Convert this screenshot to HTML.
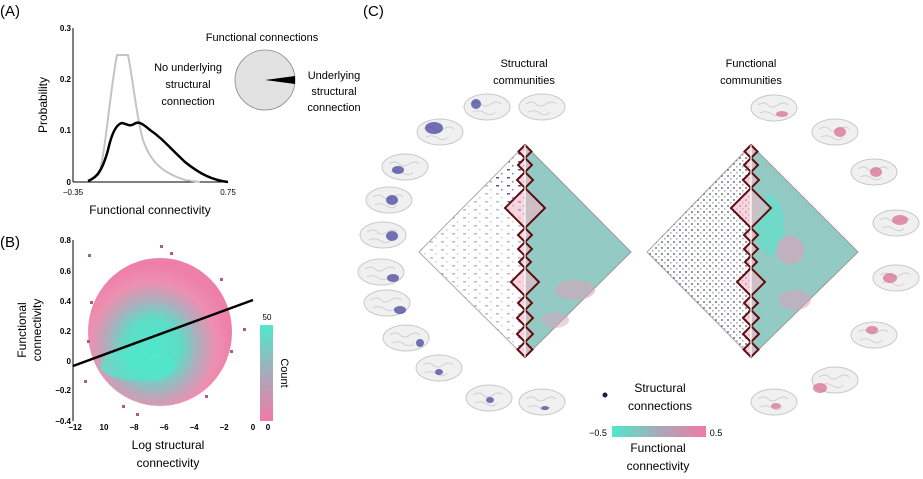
<!DOCTYPE html>
<html><head><meta charset="utf-8"><style>
body{margin:0;background:#fff;}
svg{display:block;font-family:"Liberation Sans",sans-serif;}
</style></head><body>
<svg width="923" height="479" viewBox="0 0 923 479" xmlns="http://www.w3.org/2000/svg">
<defs>
<radialGradient id="blob" cx="0.45" cy="0.6" r="0.55">
<stop offset="0" stop-color="#4fe8cc"/><stop offset="0.35" stop-color="#5fdcc6"/><stop offset="0.6" stop-color="#b6a9bb"/><stop offset="0.8" stop-color="#ee8fb0"/><stop offset="1" stop-color="#ee7fa6"/>
</radialGradient>
<linearGradient id="cnt" x1="0" y1="0" x2="0" y2="1"><stop offset="0" stop-color="#4fe8cc"/><stop offset="0.5" stop-color="#a6acba"/><stop offset="1" stop-color="#f07aa5"/></linearGradient>
<linearGradient id="fc" x1="0" y1="0" x2="1" y2="0"><stop offset="0" stop-color="#4fe8cc"/><stop offset="0.5" stop-color="#a9a9b8"/><stop offset="1" stop-color="#f07aa5"/></linearGradient>
<pattern id="dots" width="11" height="8" patternUnits="userSpaceOnUse"><rect x="1" y="1" width="3" height="1.5" fill="#3a3a8a"/><rect x="6" y="5" width="1.5" height="1.5" fill="#6a6ab0"/></pattern>
<pattern id="dots2" width="6" height="6" patternUnits="userSpaceOnUse"><rect x="1" y="1" width="2" height="2" fill="#2a2a70"/><rect x="4" y="4" width="1.5" height="1.5" fill="#555"/></pattern>
<g id="zz"><path d="M525,145 531.5,151.5 525,158 532,165 525,172 533,180 525,188 545,208 525,228 532,235 525,242 532,249 525,256 531,262 525,268 539,282 525,296 532,303 525,310 533,318 525,326 533,334 525,342 532.5,349.5 525,357" fill="#f4b8c8" fill-opacity="0.6" stroke="#5a1010" stroke-width="2"/></g>
<g id="brain"><ellipse cx="0" cy="0" rx="23" ry="13" fill="#f0f0f0" stroke="#c8c8c8" stroke-width="1"/><path d="M-16,-3 q6,-4 10,0 t10,0 t10,0 M-14,5 q6,-3 12,1 t10,-1" stroke="#d0d0d0" fill="none"/></g>
</defs>

<!-- Panel A -->
<text x="0" y="16" font-size="15">(A)</text>
<g font-size="8" font-weight="bold" text-anchor="end">
<text x="71" y="31">0.3</text><text x="71" y="82">0.2</text><text x="71" y="133">0.1</text><text x="71" y="185">0</text>
</g>
<line x1="73" y1="28" x2="73" y2="182" stroke="#000"/>
<line x1="73" y1="182" x2="228" y2="182" stroke="#000"/>
<text x="73" y="195" font-size="8" text-anchor="middle">−0.35</text>
<text x="228" y="195" font-size="8" text-anchor="middle">0.75</text>
<text x="150" y="214" font-size="12" text-anchor="middle">Functional connectivity</text>
<text transform="translate(47,105) rotate(-90)" font-size="12" text-anchor="middle">Probability</text>
<path d="M98,176 C105,160 110,90 117,55 L128,55 C133,80 137,120 143,140 C150,160 160,172 185,180 L200,182" fill="none" stroke="#c4c4c4" stroke-width="2"/>
<path d="M88,181 C96,178 102,172 108,150 C112,132 117,124 122,123 C127,124 130,127 134,124 C138,121 142,123 150,130 C162,138 170,148 185,162 C200,174 212,180 228,182" fill="none" stroke="#000" stroke-width="2.5"/>
<text x="262" y="41" font-size="11" text-anchor="middle">Functional connections</text>
<circle cx="265" cy="80" r="30" fill="#e2e2e2" stroke="#888" stroke-width="0.8"/>
<path d="M265,80 L295,76 L295,84 Z" fill="#000"/>
<g font-size="11" text-anchor="middle">
<text x="188" y="71">No underlying</text><text x="188" y="88">structural</text><text x="188" y="105">connection</text>
<text x="334" y="79">Underlying</text><text x="334" y="95">structural</text><text x="334" y="111">connection</text>
</g>

<!-- Panel B -->
<text x="0" y="247" font-size="15">(B)</text>
<g font-size="8" font-weight="bold" text-anchor="end">
<text x="71" y="243">0.8</text><text x="71" y="274">0.6</text><text x="71" y="304">0.4</text><text x="71" y="334">0.2</text><text x="71" y="364">0</text><text x="71" y="393">−0.2</text><text x="71" y="424">−0.4</text>
</g>
<line x1="73" y1="240" x2="73" y2="421" stroke="#000"/>
<g font-size="8" font-weight="bold" text-anchor="middle">
<text x="75" y="430">−12</text><text x="104" y="430">10</text><text x="134" y="430">−8</text><text x="164" y="430">−6</text><text x="194" y="430">−4</text><text x="224" y="430">−2</text><text x="253" y="430">0</text><text x="268" y="430">0</text>
</g>
<ellipse cx="160" cy="332" rx="72" ry="74" fill="url(#blob)"/>
<ellipse cx="138" cy="365" rx="38" ry="16" fill="#4fe8cc" opacity="0.7"/>
<g fill="#b05a7f">
<rect x="88" y="254" width="3" height="3"/><rect x="160" y="245" width="3" height="3"/><rect x="170" y="252" width="3" height="3"/><rect x="220" y="278" width="3" height="3"/><rect x="243" y="328" width="3" height="3"/><rect x="87" y="340" width="3" height="3"/><rect x="122" y="405" width="3" height="3"/><rect x="136" y="413" width="3" height="3"/><rect x="90" y="301" width="3" height="3"/><rect x="230" y="350" width="3" height="3"/><rect x="205" y="395" width="3" height="3"/><rect x="84" y="380" width="3" height="3"/>
</g>
<line x1="73" y1="366" x2="253" y2="300" stroke="#000" stroke-width="2.5"/>
<rect x="260" y="325" width="13" height="96" fill="url(#cnt)"/>
<text x="267" y="320" font-size="8" text-anchor="middle">50</text>
<text transform="translate(281,373) rotate(90)" font-size="11" text-anchor="middle">Count</text>
<text transform="translate(26,330) rotate(-90)" font-size="12" text-anchor="middle"><tspan x="0" dy="0">Functional</tspan><tspan x="0" dy="15">connectivity</tspan></text>
<text x="168" y="449" font-size="12" text-anchor="middle">Log structural</text>
<text x="168" y="467" font-size="12" text-anchor="middle">connectivity</text>

<!-- Panel C -->
<text x="363" y="16" font-size="15">(C)</text>
<g font-size="11" text-anchor="middle">
<text x="524" y="67">Structural</text><text x="524" y="84">communities</text>
<text x="751" y="67">Functional</text><text x="751" y="84">communities</text>
</g>
<!-- left diamond -->
<polygon points="525,145 419,252 525,357" fill="#fff" stroke="#aaa"/>
<polygon points="525,145 419,252 525,357" fill="url(#dots)" opacity="0.35"/>
<polygon points="525,145 490,182 525,220" fill="url(#dots)" opacity="0.8"/>
<polygon points="525,145 631,252 525,357" fill="#93cbc4" stroke="#999"/>
<ellipse cx="575" cy="290" rx="20" ry="10" fill="#d9a3bd" opacity="0.6"/>
<ellipse cx="555" cy="320" rx="14" ry="8" fill="#d9a3bd" opacity="0.5"/>
<use href="#zz"/><use href="#zz" transform="translate(1050,0) scale(-1,1)"/>
<line x1="525" y1="145" x2="525" y2="357" stroke="#fff" stroke-width="1.2"/>
<!-- right diamond -->
<polygon points="751,145 647,252 751,357" fill="#fff" stroke="#aaa"/>
<polygon points="751,145 647,252 751,357" fill="url(#dots2)" opacity="0.5"/>
<polygon points="751,145 858,252 751,357" fill="#93cbc4" stroke="#999"/>
<ellipse cx="770" cy="225" rx="14" ry="30" fill="#4fe8cc" opacity="0.5"/>
<ellipse cx="790" cy="250" rx="14" ry="14" fill="#e79cbb" opacity="0.55"/>
<ellipse cx="795" cy="300" rx="16" ry="10" fill="#e79cbb" opacity="0.5"/>
<use href="#zz" transform="translate(226,0)"/><use href="#zz" transform="translate(1276,0) scale(-1,1)"/>
<line x1="751" y1="145" x2="751" y2="357" stroke="#fff" stroke-width="1.2"/>
<!-- brains left -->
<g>
<use href="#brain" transform="translate(487,107)"/><use href="#brain" transform="translate(542,107)"/>
<use href="#brain" transform="translate(440,132)"/><use href="#brain" transform="translate(405,167)"/>
<use href="#brain" transform="translate(389,200)"/><use href="#brain" transform="translate(383,235)"/>
<use href="#brain" transform="translate(381,272)"/><use href="#brain" transform="translate(387,303)"/>
<use href="#brain" transform="translate(406,338)"/><use href="#brain" transform="translate(439,368)"/>
<use href="#brain" transform="translate(489,398)"/><use href="#brain" transform="translate(542,402)"/>
</g>
<g fill="#3a3a9a" opacity="0.7">
<ellipse cx="476" cy="104" rx="5" ry="5"/><ellipse cx="434" cy="128" rx="9" ry="6"/><ellipse cx="398" cy="170" rx="6" ry="4"/><ellipse cx="392" cy="200" rx="6" ry="5"/><ellipse cx="392" cy="236" rx="6" ry="5"/><ellipse cx="393" cy="278" rx="6" ry="4"/><ellipse cx="400" cy="310" rx="6" ry="4"/><ellipse cx="420" cy="343" rx="4" ry="4"/><ellipse cx="439" cy="372" rx="4" ry="3"/><ellipse cx="490" cy="400" rx="4" ry="3"/><ellipse cx="545" cy="408" rx="4" ry="2"/>
</g>
<!-- brains right -->
<g>
<use href="#brain" transform="translate(774,108)"/><use href="#brain" transform="translate(835,132)"/>
<use href="#brain" transform="translate(874,172)"/><use href="#brain" transform="translate(896,223)"/>
<use href="#brain" transform="translate(896,278)"/><use href="#brain" transform="translate(874,335)"/>
<use href="#brain" transform="translate(835,380)"/><use href="#brain" transform="translate(774,402)"/>
</g>
<g fill="#d9688f" opacity="0.7">
<ellipse cx="782" cy="114" rx="6" ry="3"/><ellipse cx="840" cy="132" rx="6" ry="5"/><ellipse cx="876" cy="172" rx="6" ry="5"/><ellipse cx="900" cy="220" rx="8" ry="5"/><ellipse cx="890" cy="278" rx="7" ry="5"/><ellipse cx="872" cy="330" rx="6" ry="4"/><ellipse cx="820" cy="388" rx="7" ry="5"/><ellipse cx="776" cy="406" rx="5" ry="3"/>
</g>
<!-- legend -->
<circle cx="605" cy="395" r="2.5" fill="#1a1a50"/>
<g font-size="12" text-anchor="middle">
<text x="660" y="392">Structural</text><text x="660" y="410">connections</text>
<text x="658" y="452">Functional</text><text x="658" y="470">connectivity</text>
</g>
<rect x="612" y="426" width="94" height="11" fill="url(#fc)"/>
<text x="598" y="436" font-size="9" text-anchor="middle">−0.5</text>
<text x="716" y="436" font-size="9" text-anchor="middle">0.5</text>
</svg>
</body></html>
